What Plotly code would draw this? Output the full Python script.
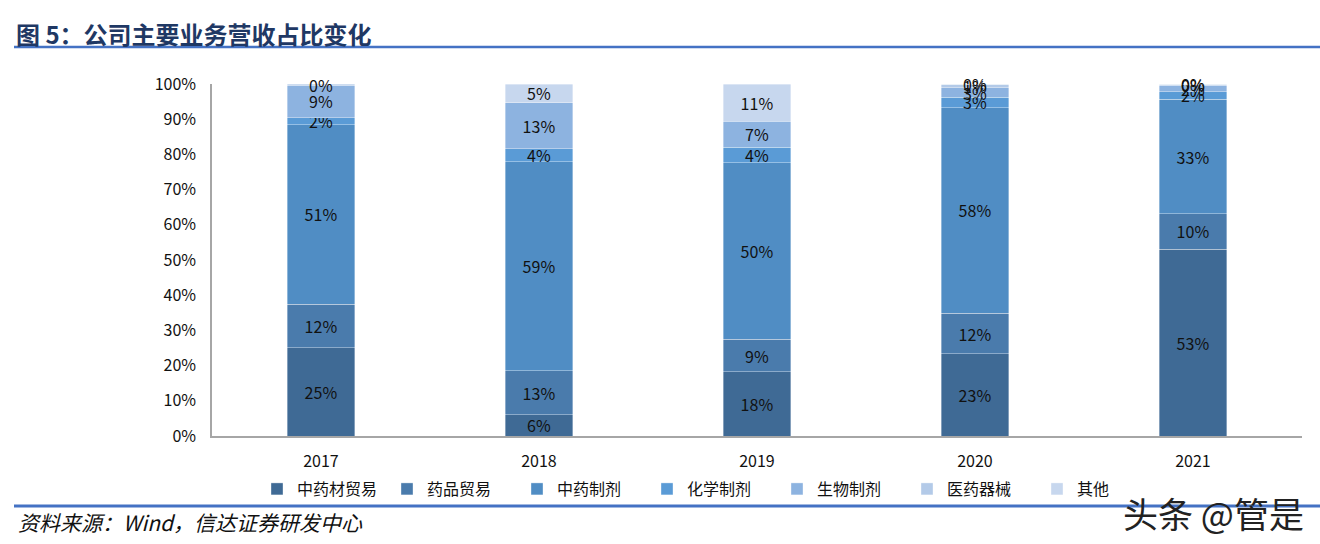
import plotly.graph_objects as go

years = ["2017", "2018", "2019", "2020", "2021"]
series_names = ["中药材贸易", "药品贸易", "中药制剂", "化学制剂", "生物制剂", "医药器械", "其他"]
v_zhongyaocai = [25.1, 6.0, 18.2, 23.3, 53.1]
v_yaopin = [12.4, 12.6, 9.3, 11.6, 10.0]
v_zhongyaozhiji = [50.9, 59.3, 50.2, 58.4, 32.6]
v_huaxue = [2.0, 3.7, 4.3, 2.9, 2.1]
v_shengwu = [9.3, 13.1, 7.4, 2.7, 1.8]
v_qixie = [0.3, None, None, 1.0, 0.3]
v_qita = [None, 5.3, 10.6, 0.1, 0.1]
series_values = [v_zhongyaocai, v_yaopin, v_zhongyaozhiji, v_huaxue, v_shengwu, v_qixie, v_qita]
colors = ["#3F6A95", "#4A7BAC", "#508DC4", "#5A9BD6", "#8DB3E0", "#B3CAE8", "#C7D7EE"]
y_ticks = list(range(0, 101, 10))

W, H = 1320, 544
L, R, T, B = 212, 18, 84, 108
PW, PH = W - L - R, H - T - B
def px(x):
    return (x - L) / PW
def py(y):
    return (H - B - y) / PH

FONT = "Noto Sans CJK SC, Microsoft YaHei, sans-serif"

fig = go.Figure()
for name, vals, col in zip(series_names, series_values, colors):
    fig.add_trace(go.Bar(
        x=years, y=vals, name=name,
        marker=dict(color=col, line=dict(color="rgba(255,255,255,0.45)", width=0.8)),
        texttemplate="%{y:.0f}%", textposition="inside", insidetextanchor="middle",
        textangle=0,
        textfont=dict(size=16, color="#111111", family=FONT),
        cliponaxis=False, hoverinfo="skip",
    ))

fig.update_layout(
    width=W, height=H, barmode="stack", bargap=0.69,
    margin=dict(l=L, r=R, t=T, b=B, autoexpand=False),
    paper_bgcolor="white", plot_bgcolor="white",
    font=dict(family=FONT, size=16, color="#111111"),
    uniformtext=dict(minsize=16, mode="show"),
    showlegend=True,
    legend=dict(orientation="h", x=px(257), xanchor="left", y=py(489), yanchor="middle",
                entrywidth=85, entrywidthmode="pixels", font=dict(size=16, color="#111111"),
                bgcolor="rgba(0,0,0,0)", itemclick=False, tracegroupgap=0, traceorder="normal"),
    xaxis=dict(showline=True, linecolor="#A6A6A6", linewidth=1.5, ticks="", showgrid=False,
               tickfont=dict(size=16), ticklabelstandoff=10, fixedrange=True),
    yaxis=dict(range=[0, 100], tickvals=y_ticks, ticktext=[f"{t}%" for t in y_ticks],
               showline=True, linecolor="#A6A6A6", linewidth=1.5, ticks="", showgrid=False,
               zeroline=False, tickfont=dict(size=16), ticklabelstandoff=11, fixedrange=True),
)

shapes = [
    dict(type="line", xref="paper", yref="paper", x0=px(14), x1=px(1320), y0=py(47), y1=py(47),
         line=dict(color="#4472C4", width=2.5)),
    dict(type="line", xref="paper", yref="paper", x0=px(14), x1=px(1320), y0=py(506), y1=py(506),
         line=dict(color="#4472C4", width=3)),
]
fig.update_layout(shapes=shapes)

fig.add_annotation(xref="paper", yref="paper", x=px(14), y=py(33), xanchor="left", yanchor="middle",
                   text="<b>图 5：公司主要业务营收占比变化</b>", showarrow=False,
                   font=dict(size=24, color="#1F3864", family=FONT))
fig.add_annotation(xref="paper", yref="paper", x=px(16), y=py(522), xanchor="left", yanchor="middle",
                   text="<i>资料来源：Wind，信达证券研发中心</i>", showarrow=False,
                   font=dict(size=21, color="#111111", family=FONT))
fig.add_annotation(xref="paper", yref="paper", x=px(1306), y=py(512), xanchor="right", yanchor="middle",
                   text="头条 @管是", showarrow=False,
                   font=dict(size=35, color="#222222", family=FONT))

fig.write_html("out.html", config={"displayModeBar": False},
               post_script="document.body.style.margin='0px';")
